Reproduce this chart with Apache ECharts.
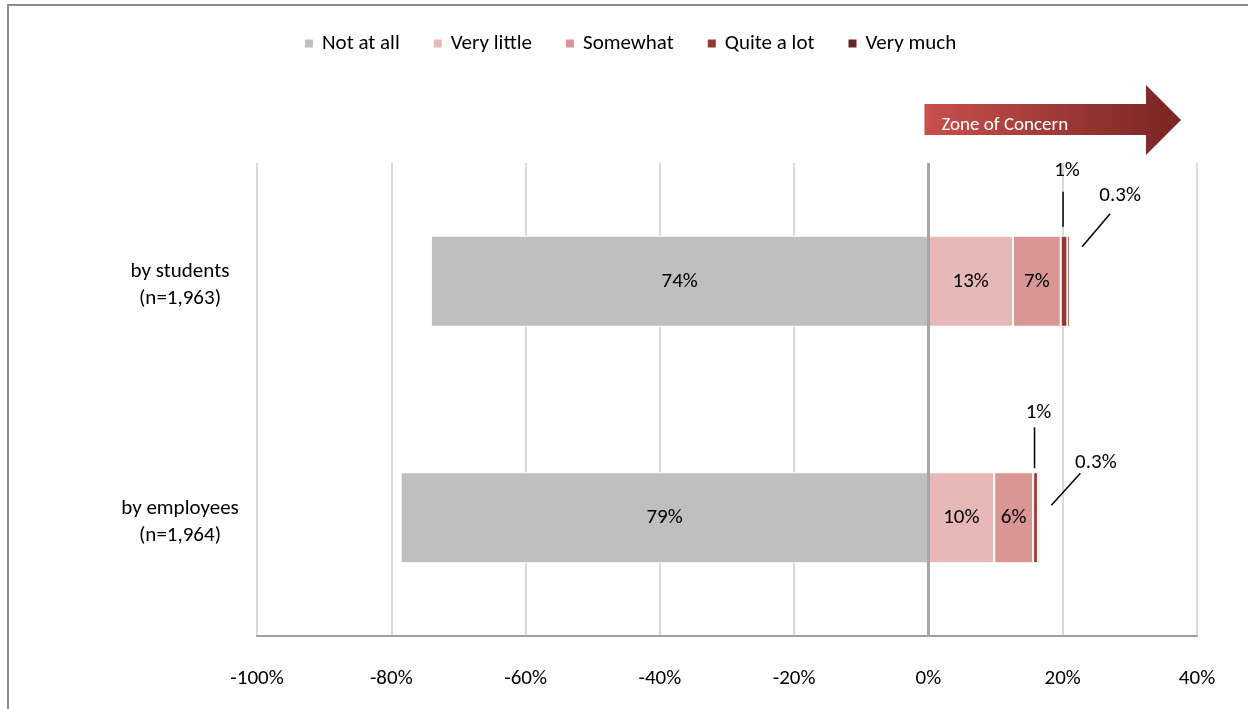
<!DOCTYPE html>
<html>
<head>
<meta charset="utf-8">
<script src="https://cdn.jsdelivr.net/npm/echarts@6/dist/echarts.min.js"></script>
<style>
html,body{margin:0;padding:0;background:#fff;}
#chart{width:1248px;height:709px;}
</style>
</head>
<body>
<div id="chart"></div>
<script>
// ---- data ----
const categories = ['by students\n(n=1,963)', 'by employees\n(n=1,964)'];
const seriesNames = ['Not at all', 'Very little', 'Somewhat', 'Quite a lot', 'Very much'];
const notAtAll   = [74.1, 78.6];
const veryLittle = [12.6, 9.8];
const somewhat   = [7.1, 5.8];
const quiteALot  = [1.0, 0.7];
const veryMuch   = [0.4, 0.3];
const notAtAllLabels   = ['74%', '79%'];
const veryLittleLabels = ['13%', '10%'];
const somewhatLabels   = ['7%', '6%'];
const quiteALotLabels  = ['1%', '1%'];
const veryMuchLabels   = ['0.3%', '0.3%'];
const tickMin = -100, tickMax = 40, tickStep = 20;
const colors = ['#BFBFBF', '#E6B9B8', '#D99694', '#953735', '#632523'];

const FONT = 'Carlito, Lato, "Open Sans", sans-serif';
const FS = 21;
const chart = echarts.init(document.getElementById('chart'));

function labelFn(arr) {
  return p => arr[p.dataIndex];
}
function mkSeries(name, data, color, labels, showLabel) {
  return {
    name: name, type: 'bar', stack: 'total', barWidth: 91,
    data: data,
    itemStyle: { color: color, borderColor: '#fff', borderWidth: 1 },
    label: showLabel ? { show: true, position: 'inside', formatter: labelFn(labels),
      color: '#000', fontSize: FS, fontFamily: FONT } : { show: false },
    emphasis: { disabled: true }
  };
}

const series = [
  mkSeries(seriesNames[0], notAtAll.map(v => -v), colors[0], notAtAllLabels, true),
  mkSeries(seriesNames[1], veryLittle, colors[1], veryLittleLabels, true),
  mkSeries(seriesNames[2], somewhat, colors[2], somewhatLabels, true),
  mkSeries(seriesNames[3], quiteALot, colors[3], quiteALotLabels, false),
  mkSeries(seriesNames[4], veryMuch, colors[4], veryMuchLabels, false)
];
series[0].markLine = {
  silent: true, symbol: 'none', label: { show: false },
  lineStyle: { color: '#A6A6A6', width: 3, type: 'solid' },
  data: [{ xAxis: 0 }]
};

chart.setOption({
  animation: false,
  color: colors,
  textStyle: { fontFamily: FONT },
  legend: {
    top: 28, left: 298, itemWidth: 10, itemHeight: 10, itemGap: 32, icon: 'rect',
    data: seriesNames,
    textStyle: { fontSize: FS, color: '#000', fontFamily: FONT, padding: [0, 0, 0, 3] }
  },
  grid: { left: 257, right: 51, top: 163, bottom: 73 },
  xAxis: {
    type: 'value', min: tickMin, max: tickMax, interval: tickStep,
    axisLine: { show: true, onZero: false, lineStyle: { color: '#A0A0A0', width: 2 } },
    axisTick: { show: false },
    splitLine: { show: true, lineStyle: { color: '#DADADA', width: 2 } },
    axisLabel: { formatter: v => v + '%', color: '#000', fontSize: FS, margin: 32, fontFamily: FONT }
  },
  yAxis: {
    type: 'category', inverse: true, data: categories,
    axisLine: { show: false }, axisTick: { show: false },
    axisLabel: {
      color: '#000', fontSize: FS, align: 'center', margin: 77, fontFamily: FONT,
      formatter: v => '{s| }\n' + v.split('\n').map(t => '{a|' + t + '}').join('\n'),
      rich: {
        s: { fontSize: 4, lineHeight: 8 },
        a: { fontSize: FS, lineHeight: 27, color: '#000', fontFamily: FONT, align: 'center' }
      }
    }
  },
  series: series
});

// ---- annotations computed from the axes ----
const px = v => chart.convertToPixel({ xAxisIndex: 0 }, v);
const py = c => chart.convertToPixel({ yAxisIndex: 0 }, c);
const halfBar = 45.5;
// per-category callout layout offsets (pixels)
const calloutLayout = [
  { q1: -44, q2: -9, qt: -65, v1: [12, 11], v2: [40, -22], vt: [50, -40] },
  { q1: -45, q2: -4, qt: -60, v1: [11.5, 33], v2: [40.5, 1], vt: [56, -10] }
];
const graphics = [];
categories.forEach((c, i) => {
  const top = py(c) - halfBar;
  const qCenter = px(veryLittle[i] + somewhat[i] + quiteALot[i] / 2) - 1;
  const endX = px(veryLittle[i] + somewhat[i] + quiteALot[i] + veryMuch[i]);
  const L = calloutLayout[i];
  graphics.push({ type: 'line', silent: true, shape: { x1: qCenter, y1: top + L.q1, x2: qCenter, y2: top + L.q2 },
    style: { stroke: '#000', lineWidth: 1.5 } });
  graphics.push({ type: 'text', silent: true, x: qCenter + 4, y: top + L.qt,
    style: { text: quiteALotLabels[i], fill: '#000', font: FS + 'px ' + FONT, textAlign: 'center', textVerticalAlign: 'middle' } });
  graphics.push({ type: 'line', silent: true, shape: { x1: endX + L.v1[0], y1: top + L.v1[1], x2: endX + L.v2[0], y2: top + L.v2[1] },
    style: { stroke: '#000', lineWidth: 1.5 } });
  graphics.push({ type: 'text', silent: true, x: endX + L.vt[0], y: top + L.vt[1],
    style: { text: veryMuchLabels[i], fill: '#000', font: FS + 'px ' + FONT, textAlign: 'center', textVerticalAlign: 'middle' } });
});

// zone of concern arrow (decoration)
const ax0 = px(0) - 4;
graphics.push({
  type: 'polygon', silent: true,
  shape: { points: [[ax0, 104], [1146, 104], [1146, 85], [1181, 120], [1146, 155], [1146, 135], [ax0, 135]] },
  style: { fill: new echarts.graphic.LinearGradient(0, 0, 1, 0, [
    { offset: 0, color: '#C9504D' }, { offset: 1, color: '#772523' }]) }
});
graphics.push({ type: 'text', silent: true, x: ax0 + 17, y: 125,
  style: { text: 'Zone of Concern', fill: '#fff', font: '19px ' + FONT, textVerticalAlign: 'middle' } });
// outer frame
graphics.push({ type: 'rect', silent: true, shape: { x: 8, y: 5, width: 1300, height: 800 },
  style: { fill: 'none', stroke: '#8C8C8C', lineWidth: 2 } });

chart.setOption({ graphic: graphics });
</script>
</body>
</html>
